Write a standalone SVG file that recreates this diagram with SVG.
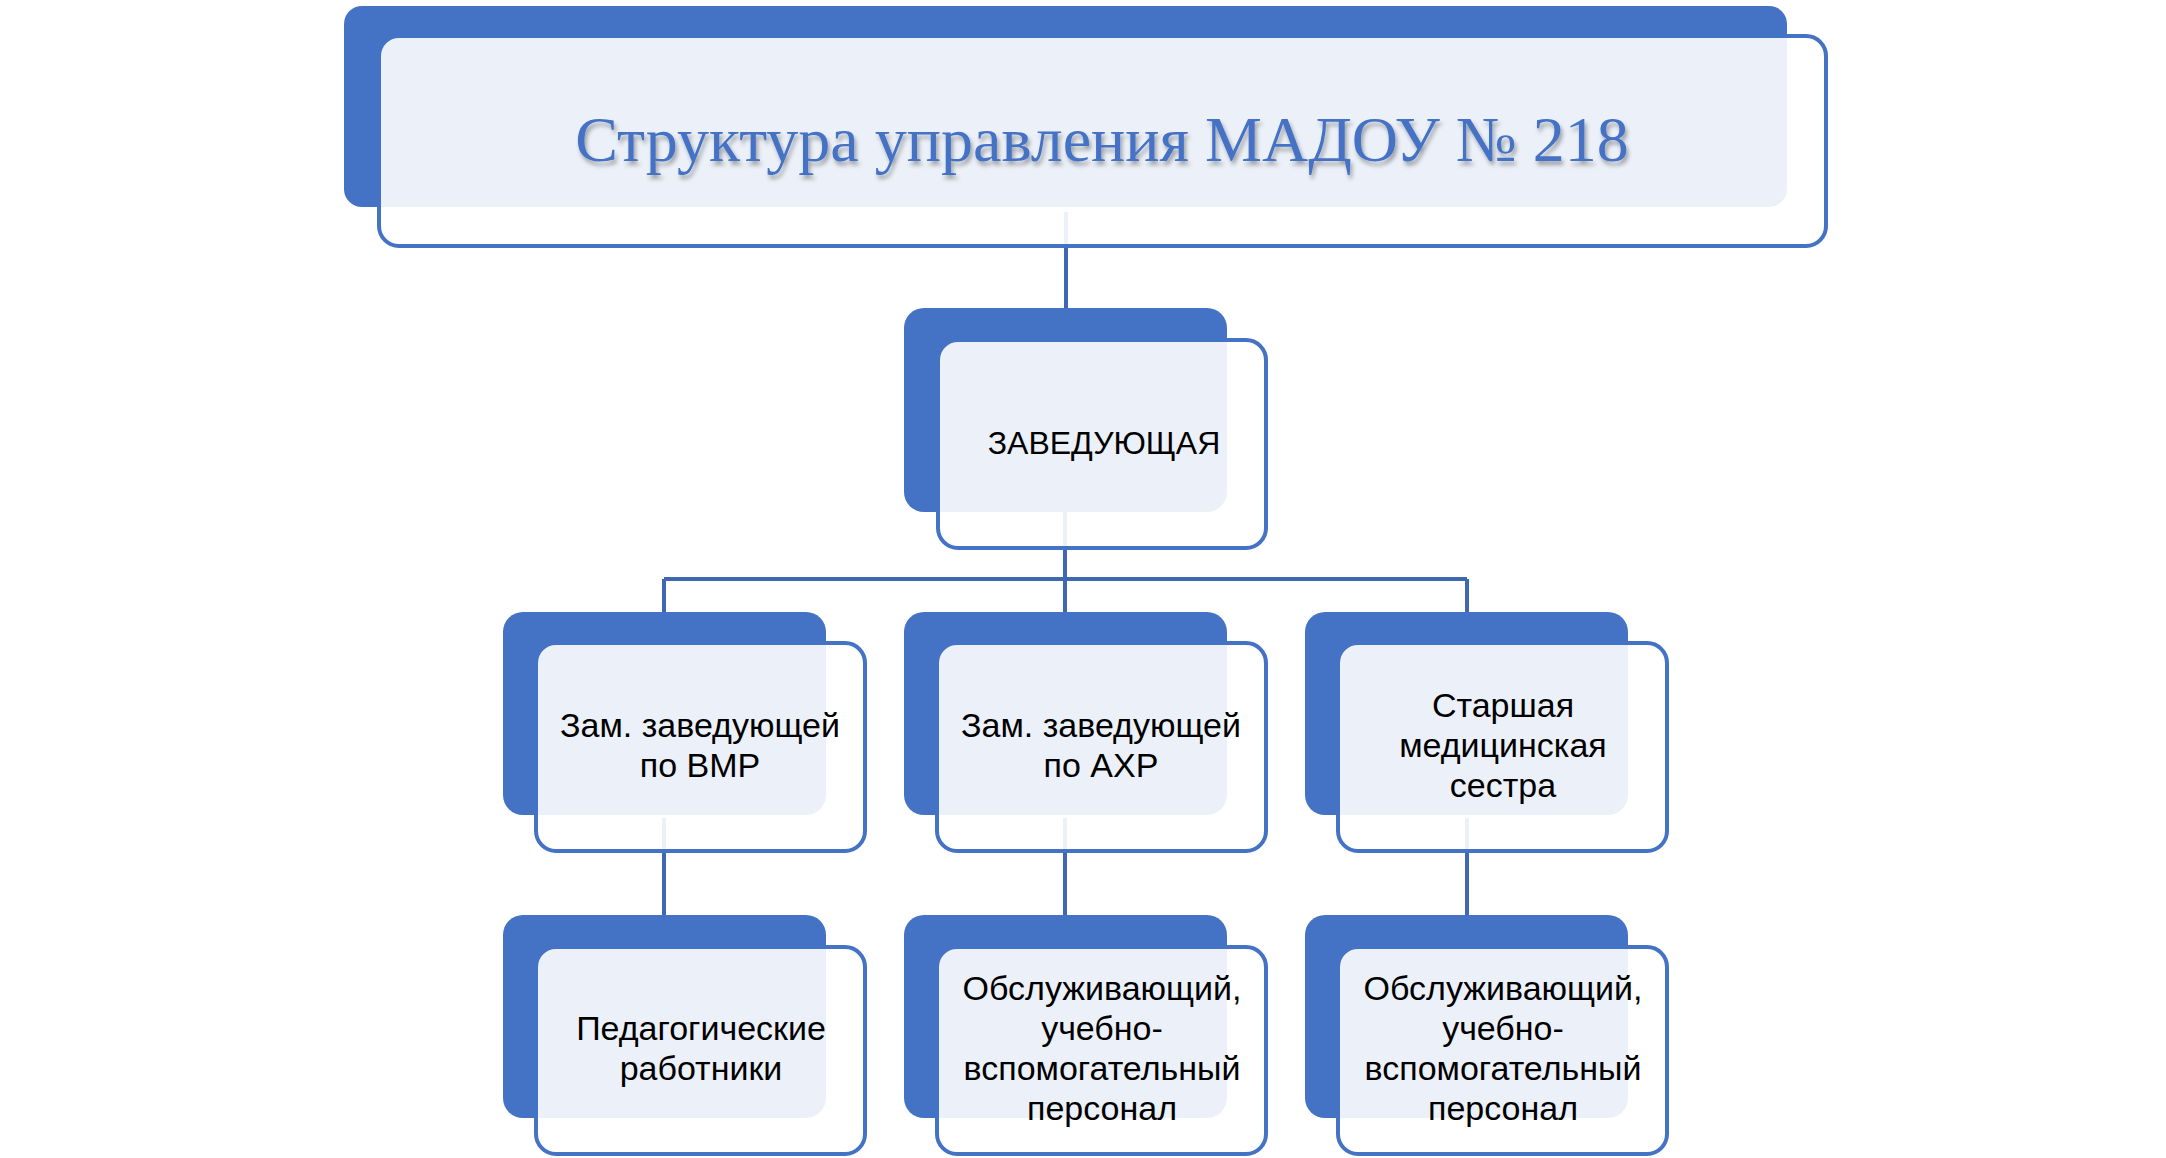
<svg xmlns="http://www.w3.org/2000/svg" width="2166" height="1158" viewBox="0 0 2166 1158">
<defs>
<style>
.back{fill:#4472C4;}
.front{fill:#FFFFFF;fill-opacity:0.9;stroke:#4472C4;stroke-width:4;}
.conn{stroke:#4068B2;stroke-width:4;fill:none;}
.lbl{font-family:"Liberation Sans",Arial,sans-serif;font-size:34px;fill:#000000;text-anchor:middle;}
.title{font-family:"Liberation Serif","Times New Roman",serif;font-size:64px;fill:#4472C4;text-anchor:middle;}
</style>
<filter id="tshadow" x="-5%" y="-30%" width="110%" height="160%">
<feDropShadow dx="2" dy="4" stdDeviation="2" flood-color="#000000" flood-opacity="0.35"/>
</filter>
</defs>
<rect width="2166" height="1158" fill="#FFFFFF"/>
<g id="connectors">
<line class="conn" x1="1066" y1="212" x2="1066" y2="308"/>
<line class="conn" x1="1065" y1="512" x2="1065" y2="612"/>
<line class="conn" x1="664" y1="579" x2="1467" y2="579"/>
<line class="conn" x1="664" y1="579" x2="664" y2="612"/>
<line class="conn" x1="1467" y1="579" x2="1467" y2="612"/>
<line class="conn" x1="664" y1="818" x2="664" y2="915"/>
<line class="conn" x1="1065" y1="818" x2="1065" y2="915"/>
<line class="conn" x1="1467" y1="818" x2="1467" y2="915"/>
</g>
<g id="node-title">
<rect class="back" x="344" y="6" width="1443" height="201" rx="18"/>
<rect class="front" x="379" y="36" width="1447" height="210" rx="20"/>
<text class="title" x="1102" y="161" filter="url(#tshadow)">Структура  управления  МАДОУ  №  218</text>
</g>
<g id="node-head">
<rect class="back" x="904" y="308" width="323" height="204" rx="20"/>
<rect class="front" x="938" y="340" width="328" height="208" rx="20"/>
<text class="lbl" x="1104" y="454" style="font-size:32px">ЗАВЕДУЮЩАЯ</text>
</g>
<g id="node-vmr">
<rect class="back" x="503" y="612" width="323" height="203" rx="20"/>
<rect class="front" x="536" y="643" width="329" height="208" rx="20"/>
<text class="lbl" x="700" y="737">Зам. заведующей</text>
<text class="lbl" x="700" y="777">по ВМР</text>
</g>
<g id="node-ahr">
<rect class="back" x="904" y="612" width="323" height="203" rx="20"/>
<rect class="front" x="937" y="643" width="329" height="208" rx="20"/>
<text class="lbl" x="1101" y="737">Зам. заведующей</text>
<text class="lbl" x="1101" y="777">по АХР</text>
</g>
<g id="node-nurse">
<rect class="back" x="1305" y="612" width="323" height="203" rx="20"/>
<rect class="front" x="1338" y="643" width="329" height="208" rx="20"/>
<text class="lbl" x="1503" y="717">Старшая</text>
<text class="lbl" x="1503" y="757">медицинская</text>
<text class="lbl" x="1503" y="797">сестра</text>
</g>
<g id="node-ped">
<rect class="back" x="503" y="915" width="323" height="203" rx="20"/>
<rect class="front" x="536" y="947" width="329" height="207" rx="20"/>
<text class="lbl" x="701" y="1040">Педагогические</text>
<text class="lbl" x="701" y="1080">работники</text>
</g>
<g id="node-staff1">
<rect class="back" x="904" y="915" width="323" height="203" rx="20"/>
<rect class="front" x="937" y="947" width="329" height="207" rx="20"/>
<text class="lbl" x="1102" y="1000">Обслуживающий,</text>
<text class="lbl" x="1102" y="1040">учебно-</text>
<text class="lbl" x="1102" y="1080">вспомогательный</text>
<text class="lbl" x="1102" y="1120">персонал</text>
</g>
<g id="node-staff2">
<rect class="back" x="1305" y="915" width="323" height="203" rx="20"/>
<rect class="front" x="1338" y="947" width="329" height="207" rx="20"/>
<text class="lbl" x="1503" y="1000">Обслуживающий,</text>
<text class="lbl" x="1503" y="1040">учебно-</text>
<text class="lbl" x="1503" y="1080">вспомогательный</text>
<text class="lbl" x="1503" y="1120">персонал</text>
</g>
</svg>
